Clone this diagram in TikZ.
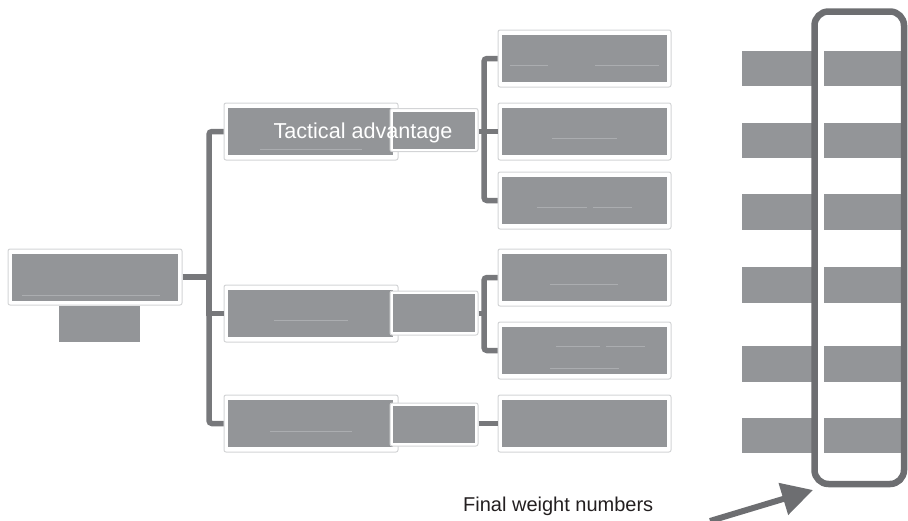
\documentclass[tikz,border=0pt]{standalone}
\usepackage{fontspec}
\setmainfont{Liberation Sans}
\usetikzlibrary{arrows.meta}

\definecolor{boxgray}{HTML}{939598}
\definecolor{framegray}{HTML}{D3D4D6}
\definecolor{linkgray}{HTML}{77787B}
\definecolor{rulegray}{HTML}{ABADB0}
\definecolor{darkline}{HTML}{6D6E71}
\definecolor{inkblack}{HTML}{231F20}

\tikzset{
  frame/.style={draw=framegray, fill=white, line width=1pt, rounded corners=2pt,
                inner sep=0pt, minimum width=#1},
  gbox/.style={fill=boxgray, draw=none, inner sep=0pt},
  link/.style={draw=linkgray, line width=5.5pt},
  textrule/.style={draw=rulegray, line width=0.8pt},
  wframe/.style={draw=darkline, line width=6.5pt, rounded corners=14pt},
  pointer/.style={draw=darkline, fill=darkline, line width=6pt,
                  -{Triangle[length=31pt,width=32pt]}},
}

\begin{document}
\begin{tikzpicture}[x=1pt,y=-1pt]
\useasboundingbox (0,0) rectangle (908,520);

% ---------- root criterion ----------
\node[frame=174pt, minimum height=56pt] (rf) at (95,277) {};
\node[gbox, minimum width=166pt, minimum height=47pt] (r) at (95,277.5) {};
\node[gbox, minimum width=81pt, minimum height=36pt] (rw) at (99.5,324) {};
\draw[textrule] (22,295) -- (160,295);

% ---------- first level criteria ----------
\node[frame=174pt, minimum height=57pt] (fa) at (311,131.5) {};
\node[gbox, minimum width=165pt, minimum height=47pt] (a) at (310.5,131.5) {};
\node[frame=174pt, minimum height=57pt] (fb) at (311,313.5) {};
\node[gbox, minimum width=165pt, minimum height=47pt] (b) at (310.5,313.5) {};
\node[frame=174pt, minimum height=57pt] (fc) at (311,423.5) {};
\node[gbox, minimum width=165pt, minimum height=47pt] (c) at (310.5,423.5) {};
\draw[textrule] (260,149) -- (362,149);
\draw[textrule] (274,320) -- (348,320);
\draw[textrule] (270,431) -- (352,431);

% weight boxes beside the first level
\node[frame=88pt, minimum height=43pt] (sa) at (434,130) {};
\node[gbox, minimum width=82pt, minimum height=37pt] (wa) at (434,130) {};
\node[frame=88pt, minimum height=44pt] (sb) at (434,313) {};
\node[gbox, minimum width=82pt, minimum height=38pt] (wb) at (434,313) {};
\node[frame=88pt, minimum height=43pt] (sc) at (434,424.5) {};
\node[gbox, minimum width=82pt, minimum height=37pt] (wc) at (434,424.5) {};

\node[text=white, font=\fontsize{21.6}{24}\selectfont, anchor=base] (ta) at (363,138.5) {Tactical advantage};

% ---------- second level criteria ----------
\foreach \n/\y in {1/58.5, 2/131.5, 3/200.5, 4/277.5, 5/350.5, 6/423.5}{
  \node[frame=173pt, minimum height=57pt] (t\n) at (584.5,\y) {};
  \node[gbox, minimum width=165pt, minimum height=47pt] (g\n) at (584.5,\y) {};
}
\draw[textrule] (510,65) -- (548,65);
\draw[textrule] (595,65) -- (659,65);
\draw[textrule] (552,138) -- (617,138);
\draw[textrule] (537,207) -- (587,207);
\draw[textrule] (593,207) -- (632,207);
\draw[textrule] (550,284) -- (618,284);
\draw[textrule] (556,346) -- (600,346);
\draw[textrule] (606,346) -- (645,346);
\draw[textrule] (550,368) -- (619,368);

% ---------- connectors ----------
\coordinate (jr) at (209,277);
\coordinate (ja) at (484,131.5);
\coordinate (jb) at (484,313.5);
\draw[link] (rf.east) -- (jr);
\draw[link, rounded corners=3pt] (fa.west) -| (jr) |- (fc.west);
\draw[link] (jr) |- (fb.west);

\draw[link] (ja -| sa.east) -- (ja);
\draw[link, rounded corners=3pt] (t1.west) -| (ja) |- (t3.west);
\draw[link] (ja) -- (t2.west);

\draw[link] (jb -| sb.east) -- (jb);
\draw[link, rounded corners=3pt] (t4.west) -| (jb) |- (t5.west);

\draw[link] (t6.west -| sc.east) -- (t6.west);

% ---------- weight table ----------
\foreach \n/\y in {1/68.5, 2/140.5, 3/212, 4/285, 5/364, 6/435.5}{
  \node[gbox, minimum width=70pt, minimum height=35.5pt] (wl\n) at (777,\y) {};
  \node[gbox, minimum width=80pt, minimum height=35.5pt] (wr\n) at (864,\y) {};
}
\coordinate (wtl) at (814.5,11.5);
\coordinate (wbr) at (904,484);
\draw[wframe] (wtl) rectangle (wbr);

% ---------- caption and pointer ----------
\node[text=inkblack, font=\fontsize{20}{24}\selectfont, anchor=base west, inner sep=0pt]
  (cap) at (463,511) {Final weight numbers};
\coordinate (atail) at (710,521);
\coordinate (ahead) at (813,490);
\draw[pointer] (atail) -- (ahead);
\end{tikzpicture}
\end{document}
